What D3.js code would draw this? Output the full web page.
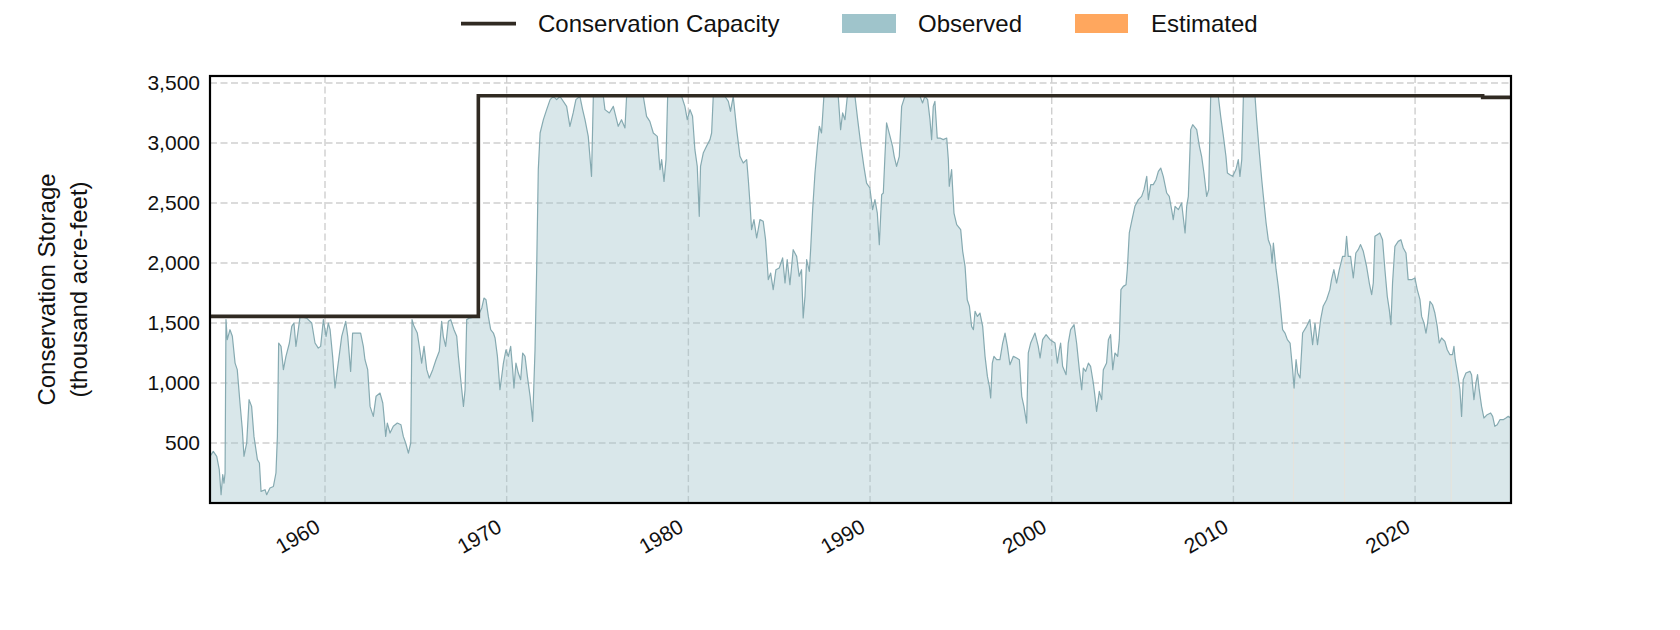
<!DOCTYPE html>
<html><head><meta charset="utf-8">
<script src="https://cdn.jsdelivr.net/npm/d3@7"></script>
<style>
body{margin:0;background:#fff}
svg{display:block}
text{font-family:"Liberation Sans",Arial,sans-serif;fill:#111}
</style>
</head><body>
<svg id="chart" width="1680" height="630"></svg>
<script>
// ---------- DATA ----------
const obsYears = [
1953.67,1953.85,1954.04,1954.18,1954.28,1954.37,1954.44,1954.50,1954.55,1954.62,1954.77,1954.90,
1955.05,1955.17,1955.32,1955.45,1955.54,1955.69,1955.82,1955.96,1956.09,1956.28,1956.39,1956.48,
1956.70,1956.79,1956.97,1957.16,1957.30,1957.38,1957.45,1957.58,1957.71,1957.85,1958.04,1958.17,
1958.29,1958.40,1958.53,1958.63,1958.99,1959.27,1959.45,1959.63,1959.76,1959.91,1960.06,1960.18,
1960.28,1960.42,1960.55,1960.68,1960.92,1961.14,1961.25,1961.41,1961.52,1961.74,1961.96,1962.11,
1962.20,1962.35,1962.48,1962.66,1962.81,1963.03,1963.18,1963.25,1963.34,1963.43,1963.58,1963.76,
1963.98,1964.18,1964.31,1964.44,1964.59,1964.72,1964.79,1964.90,1965.08,1965.19,1965.32,1965.45,
1965.60,1965.74,1965.93,1966.11,1966.29,1966.42,1966.51,1966.64,1966.79,1966.92,1967.10,1967.25,
1967.34,1967.49,1967.62,1967.71,1967.80,1967.95,1968.35,1968.50,1968.63,1968.75,1968.86,1968.99,
1969.12,1969.27,1969.36,1969.49,1969.63,1969.82,1969.96,1970.09,1970.22,1970.33,1970.40,1970.51,
1970.64,1970.77,1970.88,1971.01,1971.14,1971.29,1971.43,1971.56,1971.65,1971.74,1971.84,1972.02,
1972.20,1972.39,1972.57,1972.75,
1972.93,1973.30,1973.48,1973.66,1973.81,1974.03,1974.18,1974.31,1974.49,1974.67,1974.77,1975.32,
1975.41,1975.65,1975.87,1976.14,1976.32,1976.51,1976.60,1977.52,1977.70,1977.88,1978.07,1978.29,
1978.44,1978.53,1978.66,1978.77,1978.86,1979.63,1979.81,1979.94,1980.09,1980.23,1980.36,1980.49,
1980.60,1980.67,1980.82,1981.00,1981.19,1981.28,1981.37,1982.01,1982.20,1982.32,1982.47,1982.66,
1982.84,1983.02,1983.21,1983.30,1983.39,1983.48,1983.61,1983.76,1983.94,1984.12,1984.25,1984.34,
1984.40,1984.53,1984.67,1984.82,1985.00,1985.19,1985.32,1985.44,1985.59,1985.77,1985.96,1986.10,
1986.23,1986.32,1986.42,1986.51,1986.66,1986.73,1986.84,1986.97,1987.10,1987.21,1987.33,1987.46,
1988.25,1988.38,1988.49,1988.62,1988.75,1989.17,1989.32,1989.48,1989.66,1989.81,1989.99,1990.14,
1990.27,1990.40,1990.51,1990.64,1990.73,1990.82,1990.91,1991.10,1991.24,1991.33,1991.46,1991.61,
1991.74,1991.92,1992.75,1992.89,1993.02,1993.17,1993.30,1993.39,1993.48,1993.57,1993.70,
1993.85,1994.03,1994.22,1994.31,1994.36,1994.49,1994.62,1994.77,1994.99,1995.10,1995.23,1995.35,
1995.47,1995.59,1995.69,1995.78,1995.91,1996.05,1996.20,1996.33,1996.46,1996.57,1996.64,1996.73,
1996.82,1996.97,1997.15,1997.30,1997.43,1997.56,1997.70,1997.89,1998.07,1998.22,1998.35,1998.47,
1998.62,1998.71,1998.84,1999.08,1999.26,1999.36,1999.50,1999.69,1999.91,2000.18,2000.31,2000.42,
2000.49,2000.60,2000.79,2000.91,2001.04,2001.23,2001.37,2001.52,2001.65,2001.74,2001.87,2002.02,
2002.14,2002.29,2002.38,2002.47,2002.62,2002.75,2002.84,2003.02,2003.12,2003.24,2003.36,2003.48,
2003.63,2003.72,2003.81,2003.94,2004.09,2004.16,2004.27,2004.40,2004.58,2004.77,2004.95,2005.08,
2005.23,2005.32,2005.45,2005.59,2005.74,2005.87,2006.00,2006.14,2006.33,2006.47,2006.60,2006.69,
2006.79,2006.97,2007.15,2007.34,2007.43,2007.52,2007.65,2007.76,2007.98,2008.13,2008.25,2008.38,
2008.53,2008.64,2008.75,2009.17,2009.30,2009.45,2009.59,2009.67,2009.81,2009.96,2010.14,2010.27,
2010.36,2010.46,2010.55,2011.19,2011.28,2011.43,2011.56,2011.65,2011.80,2011.92,2012.05,2012.13,
2012.20,2012.35,2012.47,2012.57,2012.71,2012.84,2012.97,2013.12,2013.26,2013.34,2013.45,2013.54,
2013.67,
2013.81,2014.03,2014.21,2014.36,2014.49,2014.63,2014.80,2014.94,2015.13,2015.31,2015.40,2015.53,
2015.68,2015.83,2016.01,2016.14,2016.23,2016.32,2016.45,2016.60,2016.74,2016.87,2017.00,2017.15,
2017.33,2017.48,2017.61,2017.70,2017.79,2017.92,2018.06,2018.21,2018.34,2018.47,2018.58,2018.67,
2018.76,2018.89,2019.07,2019.22,2019.35,2019.50,2019.62,2019.81,2019.99,2020.12,2020.27,2020.36,
2020.49,2020.60,2020.69,2020.82,2020.96,2021.09,2021.22,2021.33,2021.46,2021.64,2021.77,2021.92,
2022.06,2022.14,2022.21,2022.34,2022.47,2022.56,2022.65,2022.80,2023.02,2023.11,2023.24,2023.35,
2023.44,2023.53,2023.66,2023.79,2023.97,2024.16,2024.27,2024.39,2024.52,2024.67,2024.85,2025.00,
2025.13,2025.26
];
const obsValues = [
389,430,389,278,69,236,166,250,1528,1361,1444,1389,
1166,1111,833,611,389,500,861,805,555,361,333,97,
111,69,125,138,250,555,1333,1305,1111,1222,1333,1472,
1500,1305,1444,1555,1541,1500,1333,1291,1305,1528,1389,1500,
1444,1222,958,1111,1389,1514,1389,1097,1416,1416,1416,1305,
1194,1111,805,722,889,916,833,722,555,666,583,639,
666,652,555,500,416,500,1528,1472,1416,1305,1166,1305,
1111,1041,1111,1194,1264,1514,1389,1305,1514,1528,1444,1389,
1222,1000,805,944,1528,1541,1555,1583,1625,1708,1694,1555,
1444,1416,1375,1222,944,1166,1277,1222,1305,1111,958,1166,
1083,1027,1250,1222,1055,889,680,1277,1944,2778,3083,3194,
3278,3361,3388,3361,
3389,3305,3139,3250,3361,3389,3278,3194,3055,2722,3389,3389,
3278,3250,3305,3139,3194,3125,3389,3389,3222,3180,3083,3055,
2778,2861,2680,2861,3389,3389,3305,3194,3278,3222,2944,2805,
2389,2805,2916,2972,3028,3083,3389,3389,3347,3264,3389,3111,
2889,2833,2861,2694,2500,2278,2361,2208,2361,2347,2194,2000,
1861,1916,1778,1944,1958,2042,1833,2028,1819,2111,2055,1889,
1944,1542,1722,2028,1930,2111,2444,2750,2972,3139,3083,3389,
3389,3111,3250,3194,3389,3389,3194,2999,2805,2666,2625,2444,
2528,2416,2152,2569,2583,2889,3167,3055,2972,2889,2805,2889,
3305,3389,3389,3333,3389,3361,3194,3028,3305,3347,3041,
3041,3028,3041,2861,2639,2778,2416,2319,2278,2097,1972,1694,
1639,1472,1444,1597,1555,1583,1472,1222,1055,972,875,1166,
1222,1194,1194,1333,1416,1305,1152,1222,1208,1194,889,805,
666,1250,1333,1416,1305,1208,1361,1403,1361,1333,1166,1277,
1333,1139,1069,1333,1444,1486,1333,1111,944,1125,1097,1166,
1139,1000,889,764,930,861,1111,1166,1361,1403,1111,1250,
1222,1361,1778,1805,1819,1944,2250,2347,2472,2528,2555,2611,
2722,2528,2653,2653,2694,2764,2791,2722,2583,2555,2444,2361,
2472,2444,2500,2250,2472,2555,3111,3152,3111,2972,2889,2750,
2555,2611,3389,3389,3222,3055,2889,2750,2736,2722,2778,2861,
2722,2861,3389,3389,3194,2916,2694,2555,2333,2194,2139,2000,
2166,1944,1805,1666,1444,1416,1361,1333,1111,958,1194,1083,
1041,
1416,1472,1528,1319,1500,1319,1528,1639,1694,1778,1861,1944,
1833,1944,2055,2055,2222,2055,2055,1875,2083,2111,2153,2097,
1972,1833,1736,1833,2222,2236,2250,2194,1944,1722,1611,1486,
1833,2139,2180,2194,2125,2083,1861,1861,1875,1778,1694,1555,
1500,1416,1500,1680,1652,1583,1472,1333,1375,1347,1277,1236,
1236,1305,1194,1083,944,722,1027,1083,1097,1069,861,1000,
1069,944,805,708,736,750,722,639,652,694,694,708,
722,708
];
// Conservation capacity (step changes)
const capYears  = [1953.67, 1968.44, 2023.72, 2025.28];
const capValues = [1555, 3394, 3380, 3380];
// Estimated periods (very short)
const estStart  = [2013.30, 2016.10, 2021.97];
const estEnd    = [2013.33, 2016.13, 2022.00];
const estValues = [1050, 2055, 1236];

const xTicks = [1960, 1970, 1980, 1990, 2000, 2010, 2020];
const yTicks = [500, 1000, 1500, 2000, 2500, 3000, 3500];
const legendLabels = ["Conservation Capacity", "Observed", "Estimated"];
const yLabelLines = ["Conservation Storage", "(thousand acre-feet)"];

// ---------- LAYOUT ----------
const P = {left: 210, right: 1511, top: 76, bottom: 503};
const colors = {cap: "#302a22", obsFill: "#9fc4cb", obsLine: "#86aab1", est: "#ffa75e", grid: "#cfcfcf"};

const svg = d3.select("#chart");
const x = d3.scaleLinear().domain([1953.67, 2025.28]).range([P.left, P.right]);
const y = d3.scaleLinear().domain([0, 3558]).range([P.bottom, P.top]);

svg.append("defs").append("clipPath").attr("id", "clip")
  .append("rect").attr("x", P.left).attr("y", P.top)
  .attr("width", P.right - P.left).attr("height", P.bottom - P.top);

// grid
const grid = svg.append("g");
grid.selectAll("line.h").data(yTicks).join("line")
  .attr("x1", P.left).attr("x2", P.right)
  .attr("y1", d => y(d)).attr("y2", d => y(d))
  .attr("stroke", colors.grid).attr("stroke-width", 1.4).attr("stroke-dasharray", "7,3.5");
grid.selectAll("line.v").data(xTicks).join("line")
  .attr("y1", P.top).attr("y2", P.bottom)
  .attr("x1", d => x(d)).attr("x2", d => x(d))
  .attr("stroke", colors.grid).attr("stroke-width", 1.4).attr("stroke-dasharray", "7,3.5");

const obs = obsYears.map((t, i) => ({t, v: obsValues[i]}));
const plot = svg.append("g").attr("clip-path", "url(#clip)");

plot.append("path").datum(obs)
  .attr("d", d3.area().x(d => x(d.t)).y0(y(0)).y1(d => y(d.v)))
  .attr("fill", colors.obsFill).attr("fill-opacity", 0.4);

// estimated slivers (replace the observed fill for a few days)
const estArea = d3.area().x(d => x(d.t)).y0(y(0)).y1(d => y(d.v));
estStart.forEach((s, i) => {
  const seg = [{t: s, v: estValues[i]}, {t: estEnd[i], v: estValues[i]}];
  plot.append("path").datum(seg).attr("d", estArea).attr("fill", "#ffffff").attr("fill-opacity", 0.5);
  plot.append("path").datum(seg).attr("d", estArea).attr("fill", colors.est).attr("fill-opacity", 0.25);
});

plot.append("path").datum(obs)
  .attr("d", d3.line().x(d => x(d.t)).y(d => y(d.v)))
  .attr("fill", "none").attr("stroke", colors.obsLine).attr("stroke-width", 1.2)
  .attr("stroke-linejoin", "round");

const cap = capYears.map((t, i) => ({t, v: capValues[i]}));
plot.append("path").datum(cap)
  .attr("d", d3.line().x(d => x(d.t)).y(d => y(d.v)).curve(d3.curveStepAfter))
  .attr("fill", "none").attr("stroke", colors.cap).attr("stroke-width", 3.6)
  .attr("stroke-linejoin", "miter");

// frame
svg.append("rect").attr("x", P.left).attr("y", P.top)
  .attr("width", P.right - P.left).attr("height", P.bottom - P.top)
  .attr("fill", "none").attr("stroke", "#000").attr("stroke-width", 2.2);

// axes
const yAxis = svg.append("g").attr("transform", `translate(${P.left},0)`)
  .call(d3.axisLeft(y).tickValues(yTicks).tickFormat(d3.format(",")).tickSize(0).tickPadding(10));
yAxis.select(".domain").remove();
yAxis.selectAll("text").style("font-family", '"Liberation Sans",Arial,sans-serif')
  .style("font-size", "21px").attr("fill", "#111");

const xAxis = svg.append("g").attr("transform", `translate(0,${P.bottom})`)
  .call(d3.axisBottom(x).tickValues(xTicks).tickFormat(d3.format("d")).tickSize(0));
xAxis.select(".domain").remove();
xAxis.selectAll("text")
  .attr("y", null).attr("dy", null)
  .attr("text-anchor", "end")
  .attr("transform", "translate(-4,28) rotate(-30)")
  .style("font-family", '"Liberation Sans",Arial,sans-serif')
  .style("font-size", "21px").attr("fill", "#111");

// y label
const yl = svg.append("text")
  .attr("transform", `translate(0,${(P.top + P.bottom) / 2}) rotate(-90)`)
  .attr("text-anchor", "middle").style("font-size", "24px");
yl.selectAll("tspan").data(yLabelLines).join("tspan")
  .attr("x", 0).attr("y", (d, i) => i === 0 ? 55 : 86.5).text(d => d);

// legend
const lg = svg.append("g").style("font-size", "24px");
lg.append("line").attr("x1", 461).attr("x2", 516).attr("y1", 23.6).attr("y2", 23.6)
  .attr("stroke", colors.cap).attr("stroke-width", 3.6);
lg.append("text").attr("x", 538).attr("y", 32).text(legendLabels[0]);
lg.append("rect").attr("x", 842).attr("y", 14).attr("width", 54).attr("height", 19).attr("fill", colors.obsFill);
lg.append("text").attr("x", 918).attr("y", 32).text(legendLabels[1]);
lg.append("rect").attr("x", 1075).attr("y", 14).attr("width", 53).attr("height", 19).attr("fill", colors.est);
lg.append("text").attr("x", 1151).attr("y", 32).text(legendLabels[2]);
</script>
</body></html>
